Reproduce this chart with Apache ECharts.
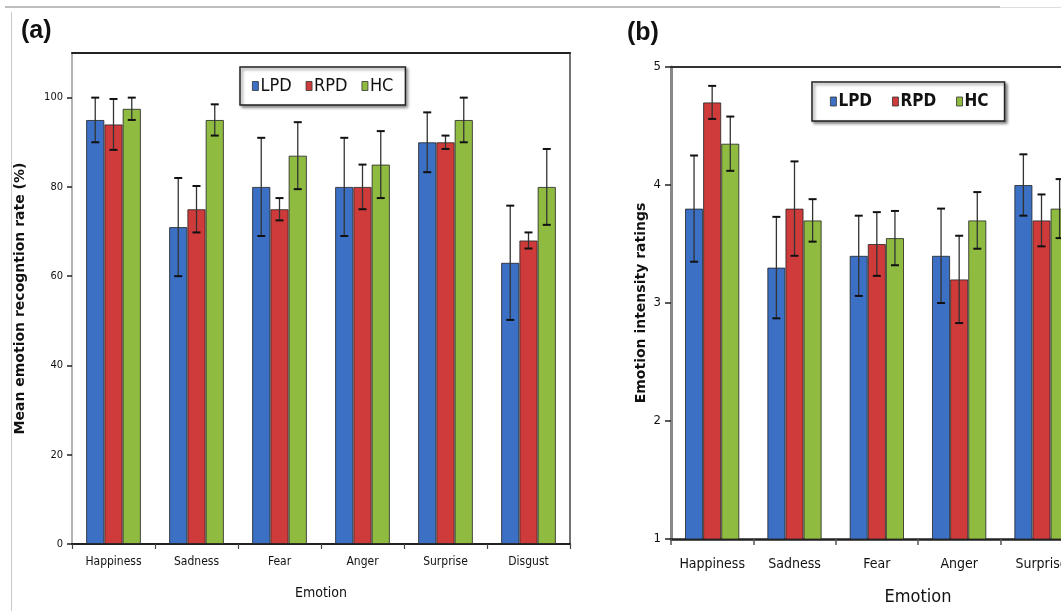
<!DOCTYPE html>
<html>
<head>
<meta charset="utf-8">
<title>Emotion recognition and intensity</title>
<script src="https://cdn.jsdelivr.net/npm/echarts@6/dist/echarts.min.js"></script>
<style>
  html, body { margin: 0; padding: 0; background: #fff; overflow: hidden; }
  #wrap { position: relative; width: 1061px; height: 611px; overflow: hidden; }
  /* the drawing surface is wider than the page; panel (b) runs past the right edge */
  #chart { position: absolute; left: 0; top: 0; width: 1170px; height: 611px; }
  .rule-top { position: absolute; left: 5px; top: 6px; width: 995px; height: 2px; background: #bdbdbd; z-index: 2; }
  .rule-top2 { position: absolute; left: 1000px; top: 7px; width: 61px; height: 1px; background: #dedede; z-index: 2; }
  .rule-left { position: absolute; left: 11px; top: 12px; width: 1px; height: 600px; background: #c8c8c8; z-index: 2; }
</style>
</head>
<body>
<div id="wrap">
  <div id="chart"></div>
  <div class="rule-top"></div>
  <div class="rule-top2"></div>
  <div class="rule-left"></div>
</div>
<script>
// Emotion categories and participant groups
const categories = ['Happiness', 'Sadness', 'Fear', 'Anger', 'Surprise', 'Disgust'];
const groups = ['LPD', 'RPD', 'HC'];

// (a) Mean emotion recognition rate (%), mean and error
const recogLPD    = [95, 71, 80, 80, 90, 63];
const recogLPDErr = [5, 11, 11, 11, 6.7, 12.8];
const recogRPD    = [94, 75, 75, 80, 90, 68];
const recogRPDErr = [5.7, 5.2, 2.5, 5, 1.5, 1.8];
const recogHC     = [97.5, 95, 87, 85, 95, 80];
const recogHCErr  = [2.5, 3.5, 7.5, 7.5, 5, 8.5];

// (b) Emotion intensity ratings, mean and error (Disgust lies outside the visible frame)
const intensLPD    = [3.8, 3.3, 3.4, 3.4, 4.0, null];
const intensLPDErr = [0.45, 0.43, 0.34, 0.4, 0.26, null];
const intensRPD    = [4.7, 3.8, 3.5, 3.2, 3.7, null];
const intensRPDErr = [0.14, 0.4, 0.27, 0.37, 0.22, null];
const intensHC     = [4.35, 3.7, 3.55, 3.7, 3.8, null];
const intensHCErr  = [0.23, 0.18, 0.23, 0.24, 0.25, null];

// Tick labels
const yTicksA = [0, 20, 40, 60, 80, 100];
const yTicksB = [1, 2, 3, 4, 5];

const colors = ['#3b70c4', '#cf3b3b', '#8fbb40'];
const NARROW = '"Liberation Sans Narrow", "DejaVu Sans Condensed", "Roboto Condensed", sans-serif';
const GAP = 0.34;

const chart = echarts.init(document.getElementById('chart'), null, { renderer: 'canvas' });

function errorRenderer(k) {
  return function (params, api) {
    const m = api.value(1), e = api.value(2);
    if (m == null || isNaN(m) || e == null || isNaN(e)) return;
    const xi = api.value(0);
    const band = api.size([1, 0])[0];
    const groupW = band * (1 - GAP);
    const bw = groupW / 3;
    const x = api.coord([xi, m])[0] - groupW / 2 + bw * (k + 0.5);
    const yTop = api.coord([xi, m + e])[1];
    const yBot = api.coord([xi, m - e])[1];
    const hw = 4;
    return {
      type: 'group',
      children: [
        { type: 'line', shape: { x1: x, y1: yTop, x2: x, y2: yBot }, style: { stroke: '#333', lineWidth: 1.3 } },
        { type: 'line', shape: { x1: x - hw, y1: yTop, x2: x + hw, y2: yTop }, style: { stroke: '#111', lineWidth: 2 } },
        { type: 'line', shape: { x1: x - hw, y1: yBot, x2: x + hw, y2: yBot }, style: { stroke: '#111', lineWidth: 2 } }
      ]
    };
  };
}

function barSeries(name, k, data, gi) {
  return {
    name: name, type: 'bar', xAxisIndex: gi * 2, yAxisIndex: gi * 2,
    data: data, barGap: '0%', barCategoryGap: (GAP * 100) + '%',
    itemStyle: { color: colors[k], borderColor: 'rgba(35,35,35,0.8)', borderWidth: 1 },
    z: 2
  };
}

function errSeries(name, k, means, errs, gi) {
  const d = means.map((m, i) => [i, m, errs[i]]).filter(r => r[1] != null);
  return {
    name: name, type: 'custom', xAxisIndex: gi * 2, yAxisIndex: gi * 2,
    data: d, renderItem: errorRenderer(k), z: 5, silent: true,
    encode: { x: 0, y: 1 }
  };
}

const legendCommon = {
  orient: 'horizontal',
  icon: 'rect', itemWidth: 6, itemHeight: 9, itemGap: 14,
  backgroundColor: '#fff', borderColor: '#222', borderWidth: 1.5,
  shadowColor: 'rgba(0,0,0,0.45)', shadowBlur: 3, shadowOffsetX: 2, shadowOffsetY: 2,
  textStyle: { fontFamily: NARROW, fontSize: 18, color: '#111', padding: [0, 0, 0, -3] },
  data: groups.map((g, i) => ({ name: g, itemStyle: { color: colors[i], borderColor: '#333', borderWidth: 0.8 } }))
};

const option = {
  animation: false,
  backgroundColor: 'transparent',
  title: [
    { text: '(a)', left: 16, top: 14, textStyle: { fontFamily: 'Liberation Sans, Arial, sans-serif', fontWeight: 'bold', fontSize: 25, color: '#111' } },
    { text: '(b)', left: 622, top: 16, textStyle: { fontFamily: 'Liberation Sans, Arial, sans-serif', fontWeight: 'bold', fontSize: 25, color: '#111' } }
  ],
  legend: [
    Object.assign({}, legendCommon, { left: 240, top: 67, padding: [10, 12, 10, 12] }),
    Object.assign({}, legendCommon, { left: 812, top: 82, padding: [11, 16, 11, 18], itemGap: 20,
      textStyle: Object.assign({}, legendCommon.textStyle, { fontSize: 17, fontWeight: 'bold' }) })
  ],
  grid: [
    { left: 72, top: 53, width: 498, bottom: 67 },
    { left: 671, top: 67, width: 494, bottom: 69 }
  ],
  xAxis: [
    {
      gridIndex: 0, type: 'category', data: categories, position: 'bottom',
      name: 'Emotion', nameLocation: 'middle', nameGap: 42,
      nameTextStyle: { fontFamily: NARROW, fontSize: 14, color: '#111' },
      axisLine: { lineStyle: { color: '#222', width: 2 } },
      axisTick: { show: true, length: 5, lineStyle: { color: '#444', width: 1.2 } },
      axisLabel: { interval: 0, fontFamily: NARROW, fontSize: 12, color: '#111', margin: 12 }
    },
    {
      gridIndex: 0, type: 'category', data: categories, position: 'top',
      axisLine: { show: true, onZero: false, lineStyle: { color: '#222', width: 2 } },
      axisTick: { show: false }, axisLabel: { show: false }
    },
    {
      gridIndex: 1, type: 'category', data: categories, position: 'bottom',
      name: 'Emotion', nameLocation: 'middle', nameGap: 49,
      nameTextStyle: { fontFamily: NARROW, fontSize: 18, color: '#111' },
      axisLine: { lineStyle: { color: '#222', width: 2.5 } },
      axisTick: { show: true, length: 6, lineStyle: { color: '#555', width: 1.5 } },
      axisLabel: { interval: 0, fontFamily: NARROW, fontSize: 14, color: '#111', margin: 18 }
    },
    {
      gridIndex: 1, type: 'category', data: categories, position: 'top',
      axisLine: { show: true, onZero: false, lineStyle: { color: '#333', width: 2 } },
      axisTick: { show: false }, axisLabel: { show: false }
    }
  ],
  yAxis: [
    {
      gridIndex: 0, type: 'value', min: 0, max: 110, interval: 20,
      name: 'Mean emotion recogntion rate (%)', nameLocation: 'middle', nameGap: 45,
      nameTextStyle: { fontFamily: 'DejaVu Sans, sans-serif', fontWeight: 'bold', fontSize: 14, color: '#111' },
      axisLine: { show: true, lineStyle: { color: '#9a9a9a', width: 1.5 } },
      axisTick: { show: true, length: 5, customValues: yTicksA, lineStyle: { color: '#222', width: 1.5 } },
      axisLabel: { customValues: yTicksA, fontFamily: NARROW, fontSize: 11, color: '#111', margin: 9 },
      splitLine: { show: false }
    },
    {
      gridIndex: 0, type: 'value', min: 0, max: 110, position: 'right',
      axisLine: { show: true, lineStyle: { color: '#444', width: 1.5 } },
      axisTick: { show: false }, axisLabel: { show: false }, splitLine: { show: false }
    },
    {
      gridIndex: 1, type: 'value', min: 1, max: 5, interval: 1,
      name: 'Emotion intensity ratings', nameLocation: 'middle', nameGap: 23,
      nameTextStyle: { fontFamily: 'DejaVu Sans, sans-serif', fontWeight: 'bold', fontSize: 14, color: '#111' },
      axisLine: { show: true, lineStyle: { color: '#888', width: 3 } },
      axisTick: { show: true, length: 6, customValues: yTicksB, lineStyle: { color: '#222', width: 1.5 } },
      axisLabel: { customValues: yTicksB, fontFamily: NARROW, fontSize: 13, color: '#111', margin: 10 },
      splitLine: { show: false }
    },
    {
      gridIndex: 1, type: 'value', min: 1, max: 5, position: 'right',
      axisLine: { show: false }, axisTick: { show: false }, axisLabel: { show: false }, splitLine: { show: false }
    }
  ],
  series: [
    barSeries('LPD', 0, recogLPD, 0),
    barSeries('RPD', 1, recogRPD, 0),
    barSeries('HC', 2, recogHC, 0),
    errSeries('LPD', 0, recogLPD, recogLPDErr, 0),
    errSeries('RPD', 1, recogRPD, recogRPDErr, 0),
    errSeries('HC', 2, recogHC, recogHCErr, 0),
    barSeries('LPD', 0, intensLPD, 1),
    barSeries('RPD', 1, intensRPD, 1),
    barSeries('HC', 2, intensHC, 1),
    errSeries('LPD', 0, intensLPD, intensLPDErr, 1),
    errSeries('RPD', 1, intensRPD, intensRPDErr, 1),
    errSeries('HC', 2, intensHC, intensHCErr, 1)
  ]
};

chart.setOption(option);
</script>
</body>
</html>
